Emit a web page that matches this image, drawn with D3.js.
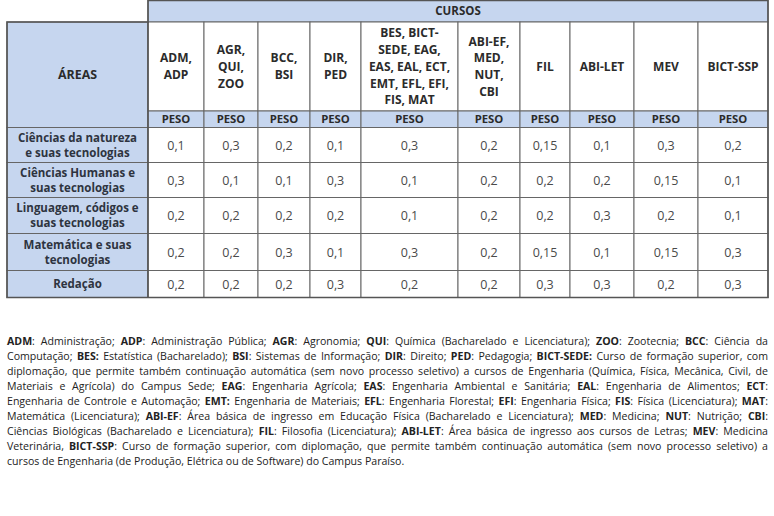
<!DOCTYPE html>
<html>
<head>
<meta charset="utf-8">
<script src="https://cdn.jsdelivr.net/npm/d3@7"></script>
<style>
  body { margin: 0; background: #fff; }
  svg { display: block; }
</style>
</head>
<body>
<div id="chart"></div>
<script>
// column headers (one entry per printed line)
const courses = [
    ["ADM,", "ADP"],
    ["AGR,", "QUI,", "ZOO"],
    ["BCC,", "BSI"],
    ["DIR,", "PED"],
    ["BES, BICT-", "SEDE, EAG,", "EAS, EAL, ECT,", "EMT, EFL, EFI,", "FIS, MAT"],
    ["ABI-EF,", "MED,", "NUT,", "CBI"],
    ["FIL"],
    ["ABI-LET"],
    ["MEV"],
    ["BICT-SSP"]
];
const areas = [
    ["Ciências da natureza", "e suas tecnologias"],
    ["Ciências Humanas e", "suas tecnologias"],
    ["Linguagem, códigos e", "suas tecnologias"],
    ["Matemática e suas", "tecnologias"],
    ["Redação"]
];
const weightsNatureza   = [0.1, 0.3, 0.2, 0.1, 0.3, 0.2, 0.15, 0.1, 0.3, 0.2];
const weightsHumanas    = [0.3, 0.1, 0.1, 0.3, 0.1, 0.2, 0.2, 0.2, 0.15, 0.1];
const weightsLinguagem  = [0.2, 0.2, 0.2, 0.2, 0.1, 0.2, 0.2, 0.3, 0.2, 0.1];
const weightsMatematica = [0.2, 0.2, 0.3, 0.1, 0.3, 0.2, 0.15, 0.1, 0.15, 0.3];
const weightsRedacao    = [0.2, 0.2, 0.2, 0.3, 0.2, 0.2, 0.3, 0.3, 0.2, 0.3];
const groupTitle = "CURSOS";
const areaTitle = "ÁREAS";
const weightTitle = "PESO";

// legend text, **bold** marks the abbreviations
const footnoteLines = [
    "**ADM**: Administração; **ADP**: Administração Pública; **AGR**: Agronomia; **QUI**: Química (Bacharelado e Licenciatura); **ZOO**: Zootecnia; **BCC**: Ciência da",
    "Computação; **BES:** Estatística (Bacharelado); **BSI**: Sistemas de Informação; **DIR**: Direito; **PED**: Pedagogia; **BICT-SEDE:** Curso de formação superior, com",
    "diplomação, que permite também continuação automática (sem novo processo seletivo) a cursos de Engenharia (Química, Física, Mecânica, Civil, de",
    "Materiais e Agrícola) do Campus Sede; **EAG**: Engenharia Agrícola; **EAS**: Engenharia Ambiental e Sanitária; **EAL**: Engenharia de Alimentos; **ECT**:",
    "Engenharia de Controle e Automação; **EMT:** Engenharia de Materiais; **EFL**: Engenharia Florestal; **EFI**: Engenharia Física; **FIS**: Física (Licenciatura); **MAT**:",
    "Matemática (Licenciatura); **ABI-EF**: Área básica de ingresso em Educação Física (Bacharelado e Licenciatura); **MED**: Medicina; **NUT**: Nutrição; **CBI**:",
    "Ciências Biológicas (Bacharelado e Licenciatura); **FIL**: Filosofia (Licenciatura); **ABI-LET**: Área básica de ingresso aos cursos de Letras; **MEV**: Medicina",
    "Veterinária, **BICT-SSP**: Curso de formação superior, com diplomação, que permite também continuação automática (sem novo processo seletivo) a",
    "cursos de Engenharia (de Produção, Elétrica ou de Software) do Campus Paraíso."
];

const weights = [weightsNatureza, weightsHumanas, weightsLinguagem, weightsMatematica, weightsRedacao];

// layout
const width = 774, height = 516;
const left = 7, right = 768;
const areaColRight = 148;
const colWidths = [56, 54, 52, 51, 97, 62, 50, 64, 64, 70];
const groupTop = 0.5, groupBottom = 22, namesBottom = 111, pesoBottom = 127.5;
const rowHeights = [35, 35, 36, 37, 27];
const blue = "#c6d6ef";
const lineColor = "#666";
const font = "'Open Sans', sans-serif";
const ptFormat = d3.formatLocale({decimal: ",", thousands: ".", grouping: [3], currency: ["", ""]}).format(".2~f");

const xEdges = [areaColRight, ...Array.from(d3.cumsum(colWidths), c => areaColRight + c)];
const yEdges = [pesoBottom, ...Array.from(d3.cumsum(rowHeights), c => pesoBottom + c)];
const xCol = d3.scaleOrdinal().domain(d3.range(courses.length)).range(xEdges.slice(0, -1));
const yRow = d3.scaleOrdinal().domain(d3.range(areas.length)).range(yEdges.slice(0, -1));
const colW = i => xEdges[i + 1] - xEdges[i];
const rowH = i => yEdges[i + 1] - yEdges[i];

const svg = d3.select("#chart").append("svg")
    .attr("width", width)
    .attr("height", height);

const table = svg.append("g");

function cell(x, y, w, h, fill) {
    table.append("rect")
        .attr("x", x).attr("y", y)
        .attr("width", w).attr("height", h)
        .attr("fill", fill)
        .attr("stroke", lineColor)
        .attr("stroke-width", 1);
}

function lines(x, cy, texts, size, weight, color, step) {
    const t = table.append("text")
        .attr("x", x)
        .attr("text-anchor", "middle")
        .attr("font-family", font)
        .attr("font-size", size)
        .attr("font-weight", weight)
        .attr("fill", color);
    const y0 = cy - (texts.length - 1) * step / 2 + size * 0.36;
    texts.forEach((s, i) => {
        t.append("tspan").attr("x", x).attr("y", y0 + i * step).text(s);
    });
}

// CURSOS band and ÁREAS cell
cell(areaColRight, groupTop, right - areaColRight, groupBottom - groupTop, blue);
lines((areaColRight + right) / 2, (groupTop + groupBottom) / 2, [groupTitle], 11.5, 700, "#2b2b2b", 0);
cell(left, groupBottom, areaColRight - left, pesoBottom - groupBottom, blue);
lines((left + areaColRight) / 2, (groupBottom + pesoBottom) / 2, [areaTitle], 12.4, 700, "#2b2b2b", 0);

// course names + PESO
courses.forEach((c, i) => {
    cell(xCol(i), groupBottom, colW(i), namesBottom - groupBottom, "#fff");
    lines(xCol(i) + colW(i) / 2, (groupBottom + namesBottom) / 2, c, 12, 700, "#2b2b2b", 16.8);
    cell(xCol(i), namesBottom, colW(i), pesoBottom - namesBottom, blue);
    lines(xCol(i) + colW(i) / 2, (namesBottom + pesoBottom) / 2, [weightTitle], 11.3, 700, "#2b2b2b", 0);
});

// area rows
areas.forEach((a, r) => {
    cell(left, yRow(r), areaColRight - left, rowH(r), blue);
    lines((left + areaColRight) / 2, yRow(r) + rowH(r) / 2, a, 11.5, 700, "#2e3440", 15);
    weights[r].forEach((v, i) => {
        cell(xCol(i), yRow(r), colW(i), rowH(r), "#fff");
        lines(xCol(i) + colW(i) / 2, yRow(r) + rowH(r) / 2, [ptFormat(v)], 12.5, 400, "#4a4a4a", 0);
    });
});

// heavier outline
table.append("path")
    .attr("d", `M${areaColRight},${groupTop}H${right}V${yEdges[yEdges.length - 1]}H${left}V${groupBottom}H${areaColRight}Z`)
    .attr("fill", "none")
    .attr("stroke", "#555")
    .attr("stroke-width", 1.6);
table.append("line")
    .attr("x1", areaColRight).attr("x2", areaColRight)
    .attr("y1", groupBottom).attr("y2", yEdges[yEdges.length - 1])
    .attr("stroke", "#555").attr("stroke-width", 1.6);

// footnote, justified line by line
const note = svg.append("g")
    .attr("font-family", font)
    .attr("fill", "#222");
const noteTop = 344.5, noteStep = 15;
let noteSize = 9;

function writeLine(s, i) {
    const t = note.append("text")
        .attr("x", left)
        .attr("y", noteTop + i * noteStep)
        .attr("font-size", noteSize);
    s.split("**").forEach((part, k) => {
        if (part) t.append("tspan").attr("font-weight", k % 2 ? 700 : 400).text(part);
    });
    return t;
}

// fit the font size to the last (unjustified) line
const probe = writeLine(footnoteLines[footnoteLines.length - 1], 0);
noteSize = noteSize * 398 / probe.node().getComputedTextLength();
probe.remove();

footnoteLines.forEach((s, i) => {
    const t = writeLine(s, i);
    if (i < footnoteLines.length - 1) {
        const spaces = (s.match(/ /g) || []).length;
        const ws = (right - left - t.node().getComputedTextLength()) / spaces;
        t.style("word-spacing", ws + "px");
    }
});
</script>
</body>
</html>
